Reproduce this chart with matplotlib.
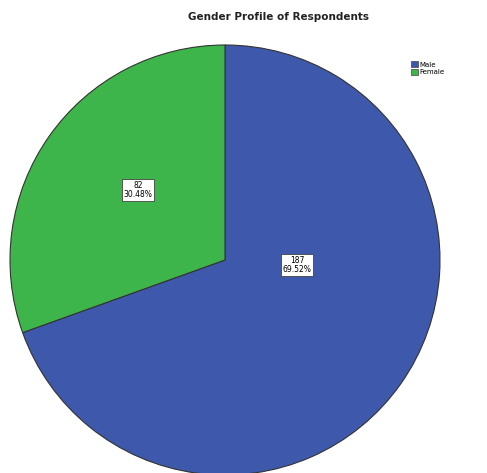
import matplotlib
matplotlib.use("Agg")
import matplotlib.pyplot as plt
from matplotlib.patches import Patch

labels = ["Male", "Female"]
counts = [187, 82]
colors = ["#3e58ac", "#3db54a"]

total = sum(counts)
pct = [c / total * 100 for c in counts]

fig = plt.figure(figsize=(4.87, 4.73), dpi=100)
ax = fig.add_axes([0, 0, 1, 1])

wedges, _ = ax.pie(counts, colors=colors, startangle=90, counterclock=False,
                   center=(225, 213), radius=215, frame=True,
                   wedgeprops=dict(edgecolor="#333333", linewidth=0.8))
ax.set_xlim(0, 487)
ax.set_ylim(0, 473)
ax.set_aspect("equal")
ax.axis("off")

# slice labels (positions)
label_pos = [(297, 208), (138, 283)]
for (x, y), c, p in zip(label_pos, counts, pct):
    ax.text(x, y, f"{c}\n{p:.2f}%", ha="center", va="center", fontsize=5.5,
            linespacing=1.0,
            bbox=dict(boxstyle="square,pad=0.25", fc="white", ec="#444444", lw=0.6))

fig.text(278 / 487, 1 - 17 / 473, "Gender Profile of Respondents",
         ha="center", va="center", fontsize=7.5, fontweight="bold", color="#222222")

handles = [Patch(facecolor=c, edgecolor="#444444", linewidth=0.5) for c in colors]
fig.legend(handles, labels, loc="upper left", bbox_to_anchor=(408 / 487, 1 - 58 / 473),
           frameon=False, fontsize=5, handlelength=0.9, handleheight=0.9,
           handletextpad=0.3, labelspacing=0.15, borderpad=0)

fig.savefig("out.png", dpi=100)
